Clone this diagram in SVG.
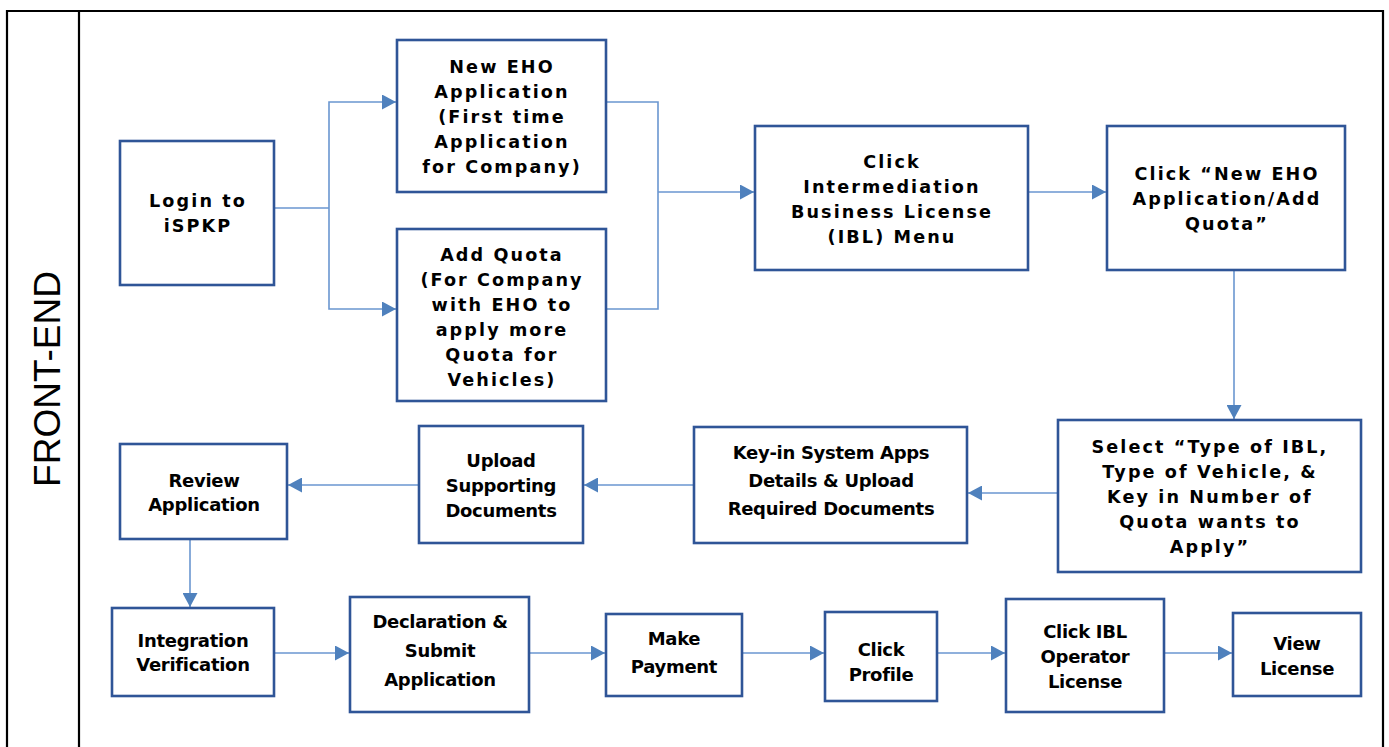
<svg xmlns="http://www.w3.org/2000/svg" width="1389" height="747" viewBox="0 0 1389 747">
<style>
.frame{fill:none;stroke:#000;stroke-width:2.2}
.box{fill:#fff;stroke:#2F5597;stroke-width:2.6}
.con{fill:none;stroke:#6A96D0;stroke-width:1.6}
.t1{font-family:"DejaVu Sans",Verdana,sans-serif;font-weight:bold;font-size:17.6px;letter-spacing:2.1px;fill:#000;text-anchor:middle}
.t2{font-family:"DejaVu Sans",Verdana,sans-serif;font-weight:bold;font-size:18px;letter-spacing:-0.3px;fill:#000;text-anchor:middle}
.lane{font-family:"Liberation Sans",Arial,sans-serif;font-size:37px;fill:#000;text-anchor:middle}
</style>
<defs>
<marker id="ah" markerUnits="userSpaceOnUse" markerWidth="15" markerHeight="15" refX="14" refY="7.5" orient="auto">
<path d="M0,0 L14,7.5 L0,15 Z" fill="#4F81BD"/>
</marker>
</defs>
<g id="frame">
<path class="frame" d="M7,747 V11 H1383 V747"/>
<line class="frame" x1="79" y1="11" x2="79" y2="747"/>
<text class="lane" transform="translate(60,379) rotate(-90)">FRONT-END</text>
</g>
<g id="connectors">
<path class="con" d="M274,208 H329"/>
<path class="con" d="M329,208 V102 H396" marker-end="url(#ah)"/>
<path class="con" d="M329,208 V309 H396" marker-end="url(#ah)"/>
<path class="con" d="M606,102 H658 V309 H606"/>
<path class="con" d="M658,192 H754" marker-end="url(#ah)"/>
<path class="con" d="M1028,192 H1106" marker-end="url(#ah)"/>
<path class="con" d="M1234,271 V419" marker-end="url(#ah)"/>
<path class="con" d="M1057,493 H968" marker-end="url(#ah)"/>
<path class="con" d="M694,485 H584" marker-end="url(#ah)"/>
<path class="con" d="M419,485 H288" marker-end="url(#ah)"/>
<path class="con" d="M190,539 V607" marker-end="url(#ah)"/>
<path class="con" d="M274,653 H349" marker-end="url(#ah)"/>
<path class="con" d="M529,653 H605" marker-end="url(#ah)"/>
<path class="con" d="M742,653 H824" marker-end="url(#ah)"/>
<path class="con" d="M937,653 H1005" marker-end="url(#ah)"/>
<path class="con" d="M1164,653 H1232" marker-end="url(#ah)"/>
</g>
<g id="login">
<rect class="box" x="120" y="141" width="154" height="144"/>
<text class="t1" x="198" y="207">Login to</text>
<text class="t1" x="198" y="232">iSPKP</text>
</g>
<g id="new-eho">
<rect class="box" x="397" y="40" width="209" height="152"/>
<text class="t1" x="502" y="73">New EHO</text>
<text class="t1" x="502" y="98">Application</text>
<text class="t1" x="502" y="123">(First time</text>
<text class="t1" x="502" y="148">Application</text>
<text class="t1" x="502" y="173">for Company)</text>
</g>
<g id="add-quota">
<rect class="box" x="397" y="229" width="209" height="172"/>
<text class="t1" x="502" y="261">Add Quota</text>
<text class="t1" x="502" y="286">(For Company</text>
<text class="t1" x="502" y="311">with EHO to</text>
<text class="t1" x="502" y="336">apply more</text>
<text class="t1" x="502" y="361">Quota for</text>
<text class="t1" x="502" y="386">Vehicles)</text>
</g>
<g id="click-ibl-menu">
<rect class="box" x="755" y="126" width="273" height="144"/>
<text class="t1" x="892" y="168">Click</text>
<text class="t1" x="892" y="193">Intermediation</text>
<text class="t1" x="892" y="218">Business License</text>
<text class="t1" x="892" y="243">(IBL) Menu</text>
</g>
<g id="click-new-eho">
<rect class="box" x="1107" y="126" width="238" height="144"/>
<text class="t1" x="1227" y="180">Click “New EHO</text>
<text class="t1" x="1227" y="205">Application/Add</text>
<text class="t1" x="1227" y="230">Quota”</text>
</g>
<g id="select-type">
<rect class="box" x="1058" y="420" width="303" height="152"/>
<text class="t1" x="1210" y="453">Select “Type of IBL,</text>
<text class="t1" x="1210" y="478">Type of Vehicle, &amp;</text>
<text class="t1" x="1210" y="503">Key in Number of</text>
<text class="t1" x="1210" y="528">Quota wants to</text>
<text class="t1" x="1210" y="553">Apply”</text>
</g>
<g id="key-in">
<rect class="box" x="694" y="427" width="273" height="116"/>
<text class="t2" x="831" y="459">Key-in System Apps</text>
<text class="t2" x="831" y="487">Details &amp; Upload</text>
<text class="t2" x="831" y="515">Required Documents</text>
</g>
<g id="upload">
<rect class="box" x="419" y="426" width="164" height="117"/>
<text class="t2" x="501" y="467">Upload</text>
<text class="t2" x="501" y="492">Supporting</text>
<text class="t2" x="501" y="517">Documents</text>
</g>
<g id="review">
<rect class="box" x="120" y="444" width="167" height="95"/>
<text class="t2" x="204" y="487">Review</text>
<text class="t2" x="204" y="511">Application</text>
</g>
<g id="integration">
<rect class="box" x="112" y="608" width="162" height="88"/>
<text class="t2" x="193" y="647">Integration</text>
<text class="t2" x="193" y="671">Verification</text>
</g>
<g id="declaration">
<rect class="box" x="350" y="597" width="179" height="115"/>
<text class="t2" x="440" y="628">Declaration &amp;</text>
<text class="t2" x="440" y="657">Submit</text>
<text class="t2" x="440" y="686">Application</text>
</g>
<g id="payment">
<rect class="box" x="606" y="614" width="136" height="82"/>
<text class="t2" x="674" y="645">Make</text>
<text class="t2" x="674" y="673">Payment</text>
</g>
<g id="profile">
<rect class="box" x="825" y="612" width="112" height="89"/>
<text class="t2" x="881" y="656">Click</text>
<text class="t2" x="881" y="681">Profile</text>
</g>
<g id="ibl-license">
<rect class="box" x="1006" y="599" width="158" height="113"/>
<text class="t2" x="1085" y="638">Click IBL</text>
<text class="t2" x="1085" y="663">Operator</text>
<text class="t2" x="1085" y="688">License</text>
</g>
<g id="view-license">
<rect class="box" x="1233" y="613" width="128" height="83"/>
<text class="t2" x="1297" y="650">View</text>
<text class="t2" x="1297" y="675">License</text>
</g>
</svg>
